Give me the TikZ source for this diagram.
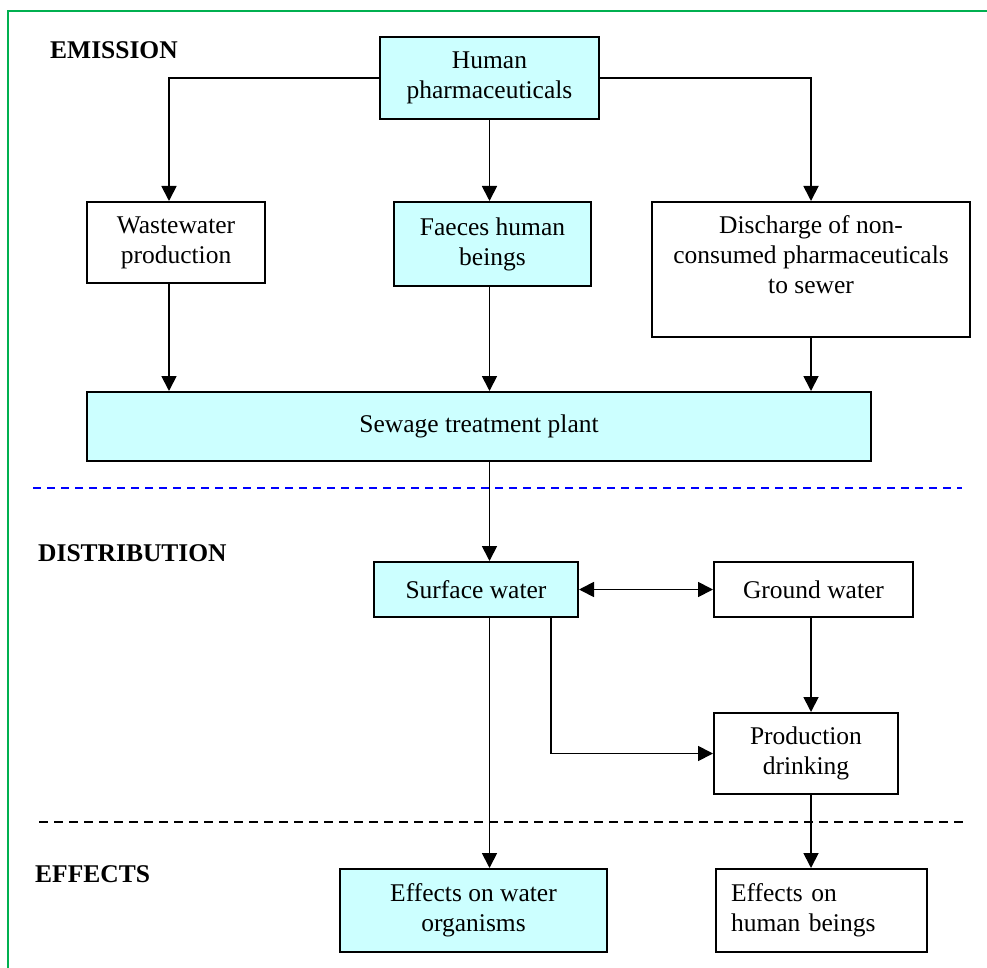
\documentclass[tikz,border=0pt]{standalone}
\usepackage{fontspec}
\setmainfont{Liberation Serif}
\usepackage{xcolor}
\usepackage{tikz}
\usetikzlibrary{positioning, calc, arrows.meta}
\definecolor{boxcyan}{HTML}{CCFFFF}
\definecolor{framegreen}{HTML}{00B050}
\tikzstyle{process} = [rectangle, line width=2pt, minimum height=81pt, text centered, align=center, draw=black]
\tikzstyle{processcyan} = [process, fill=boxcyan]
\tikzstyle{arrow} = [line width=1.8pt, -{Triangle[length=15pt,width=15pt]}]
\tikzstyle{dblarrow} = [line width=1.8pt, {Triangle[length=15pt,width=15pt]}-{Triangle[length=15pt,width=15pt]}]
\tikzstyle{phase} = [anchor=west, inner sep=0pt, font=\fontsize{25.5}{30}\selectfont\bfseries]
\tikzstyle{every node}=[font=\fontsize{25.5}{30}\selectfont]

\begin{document}
\begin{tikzpicture}[x=1pt, y=-1pt]
		\useasboundingbox (0,0) rectangle (987,968);
		\draw[framegreen, line width=2pt] (8,968) -- (8,11) -- (987,11);
		
		\node (emis) [phase] at (50,50) {EMISSION};
		\node (dist) [phase] at (38,553) {DISTRIBUTION};
		\node (effe) [phase] at (35,874) {EFFECTS};
		
		\node (hum) [processcyan, minimum width=219pt, minimum height=82pt] at (489.5,78) {Human\\pharmaceuticals};
		\node (waste) [process, minimum width=178pt] at (176,242.5) {Wastewater\\production};
		\node (faec) [processcyan, minimum width=197pt, minimum height=84pt] at (492.5,244) {Faeces human\\beings};
		\node (disc) [process, minimum width=318pt, minimum height=135pt] at (811,269.5) {Discharge of non-\\consumed pharmaceuticals\\to sewer\\\mbox{}};
		\node (sew) [processcyan, minimum width=784pt, minimum height=69pt] at (479,426.5) {Sewage treatment plant};
		
		\node (surf) [processcyan, minimum width=204pt, minimum height=55pt] at (476,589.5) {Surface water};
		\node (gro) [process, minimum width=199pt, minimum height=55pt] at (813.5,589.5) {Ground water};
		\node (prod) [process, minimum width=184pt] at (806,753.5) {Production\\drinking};
		
		\node (effw) [processcyan, minimum width=267pt, minimum height=83pt] at (473.5,910.5) {Effects on water\\organisms};
		\node (effh) [process, minimum width=211pt, minimum height=83pt, inner xsep=15pt, text width=181pt, align=left] at (821.5,910.5) {Effects on\\human beings};
		
		\coordinate (wx) at (169,0);
		\coordinate (sx) at (551,0);
		
		\draw[blue, line width=2pt, dash pattern=on 8pt off 6pt] (33,488) -- (962,488);
		\draw[black, line width=2pt, dash pattern=on 9pt off 6pt] (39,822) -- (968,822);
		
		%connectors
		\draw [arrow] (hum.west) -| (wx |- waste.north);
		\draw [arrow] (hum.south) -- (hum.south |- faec.north);
		\draw [arrow] (hum.east) -| (disc.north);
		\draw [arrow] (wx |- waste.south) -- (wx |- sew.north);
		\draw [arrow] (hum.south |- faec.south) -- (hum.south |- sew.north);
		\draw [arrow] (disc.south) -- (disc.south |- sew.north);
		\draw [arrow] (hum.south |- sew.south) -- (hum.south |- surf.north);
		\draw [dblarrow] (surf.east) -- (gro.west);
		\draw [arrow] (disc.south |- gro.south) -- (disc.south |- prod.north);
		\draw [arrow] (sx |- surf.south) |- (prod.west);
		\draw [arrow] (hum.south |- surf.south) -- (hum.south |- effw.north);
		\draw [arrow] (disc.south |- prod.south) -- (disc.south |- effh.north);
	\end{tikzpicture}
\end{document}
